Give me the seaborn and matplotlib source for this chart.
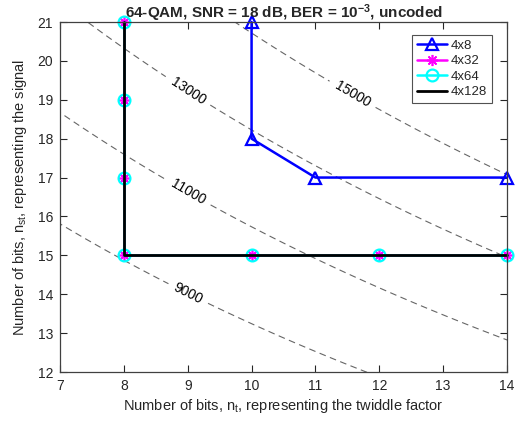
import numpy as np
import pandas as pd
import matplotlib
matplotlib.use("Agg")
import matplotlib.pyplot as plt
import seaborn as sns

# ---- data ----
s4x8_nt = [10, 10, 11, 14]
s4x8_nst = [21, 18, 17, 17]
s4x32_nt = [8, 8, 8, 8, 10, 12, 14]
s4x32_nst = [21, 19, 17, 15, 15, 15, 15]
s4x64_nt = [8, 8, 8, 8, 10, 12, 14]
s4x64_nst = [21, 19, 17, 15, 15, 15, 15]
s4x128_nt = [8, 8, 14]
s4x128_nst = [21, 15, 15]
series_labels = ["4x8", "4x32", "4x64", "4x128"]

contour_levels = [9000, 11000, 13000, 15000]
# complexity surface approximating the dashed iso-lines: K*(nt+a)*(nst+b)+c
K, A_OFF, B_OFF, C_OFF = 34.6, 13.2, 4.05, -4881.0
label_pos = [(8.98, 13.93), (8.98, 16.55), (8.98, 19.17), (11.53, 19.0)]

x_ticks = [7, 8, 9, 10, 11, 12, 13, 14]
y_ticks = [12, 13, 14, 15, 16, 17, 18, 19, 20, 21]

sns.set_style("ticks")
plt.rcParams["font.family"] = ["Liberation Sans", "DejaVu Sans"]
plt.rcParams["mathtext.fontset"] = "custom"
plt.rcParams["mathtext.rm"] = "Liberation Sans"
plt.rcParams["mathtext.bf"] = "Liberation Sans:bold"
plt.rcParams["mathtext.it"] = "Liberation Sans:italic"

fig = plt.figure(figsize=(5.2, 4.25), dpi=100)
ax = fig.add_axes([60 / 520, 1 - 372 / 425, (507 - 60) / 520, (372 - 22) / 425])

# contours
nt_g = np.linspace(6.5, 14.5, 300)
nst_g = np.linspace(11.5, 21.5, 300)
NT, NST = np.meshgrid(nt_g, nst_g)
Z = K * (NT + A_OFF) * (NST + B_OFF) + C_OFF
cs = ax.contour(NT, NST, Z, levels=contour_levels, colors="#666666",
                linewidths=0.8, linestyles=[(0, (6, 4))])
ax.clabel(cs, manual=label_pos, fmt="%d", fontsize=10, inline=True,
          inline_spacing=4, colors="black")

common = dict(ax=ax, estimator=None, sort=False, legend=False)
sns.lineplot(x=s4x8_nt, y=s4x8_nst, color="#0000ff", lw=1.8, marker="^",
             markersize=8, markerfacecolor="none", markeredgecolor="#0000ff",
             markeredgewidth=1.6, label=series_labels[0], **common)
sns.lineplot(x=s4x32_nt, y=s4x32_nst, color="#ff00ff", lw=1.8, marker=(8, 2, 0),
             markersize=8, markeredgecolor="#ff00ff", markeredgewidth=1.2,
             label=series_labels[1], **common)
sns.lineplot(x=s4x64_nt, y=s4x64_nst, color="#00ffff", lw=1.8, marker="o",
             markersize=8.5, markerfacecolor="none", markeredgecolor="#00ffff",
             markeredgewidth=1.6, label=series_labels[2], **common)
sns.lineplot(x=s4x128_nt, y=s4x128_nst, color="black", lw=2.0,
             label=series_labels[3], **common)

ax.set_xlim(7, 14)
ax.set_ylim(12, 21)
ax.set_xticks(x_ticks)
ax.set_yticks(y_ticks)
ax.tick_params(direction="in", length=5, width=0.8, top=True, right=True,
               labelsize=10, colors="#262626", pad=5)
for sp in ax.spines.values():
    sp.set_visible(True)
    sp.set_color("#404040")
    sp.set_linewidth(0.9)
for m in ax.get_lines():
    m.set_clip_on(False)

ax.set_xlabel(r"Number of bits, n$_\mathregular{t}$, representing the twiddle factor",
              fontsize=10.5, labelpad=3)
ax.set_ylabel(r"Number of bits, n$_\mathregular{st}$, representing the signal",
              fontsize=10.5, labelpad=6)
ax.set_title(r"64-QAM, SNR = 18 dB, BER = 10$^{\mathbf{-3}}$, uncoded",
             fontsize=11, fontweight="bold", pad=3)

leg = ax.legend(loc="upper right", bbox_to_anchor=(0.966, 0.963), fontsize=9.5,
                frameon=True, fancybox=False, handlelength=2.3,
                borderaxespad=0, borderpad=0.35, labelspacing=0.25,
                handletextpad=0.3)
leg.get_frame().set_edgecolor("#262626")
leg.get_frame().set_linewidth(0.8)

fig.savefig("out.png", dpi=100)
